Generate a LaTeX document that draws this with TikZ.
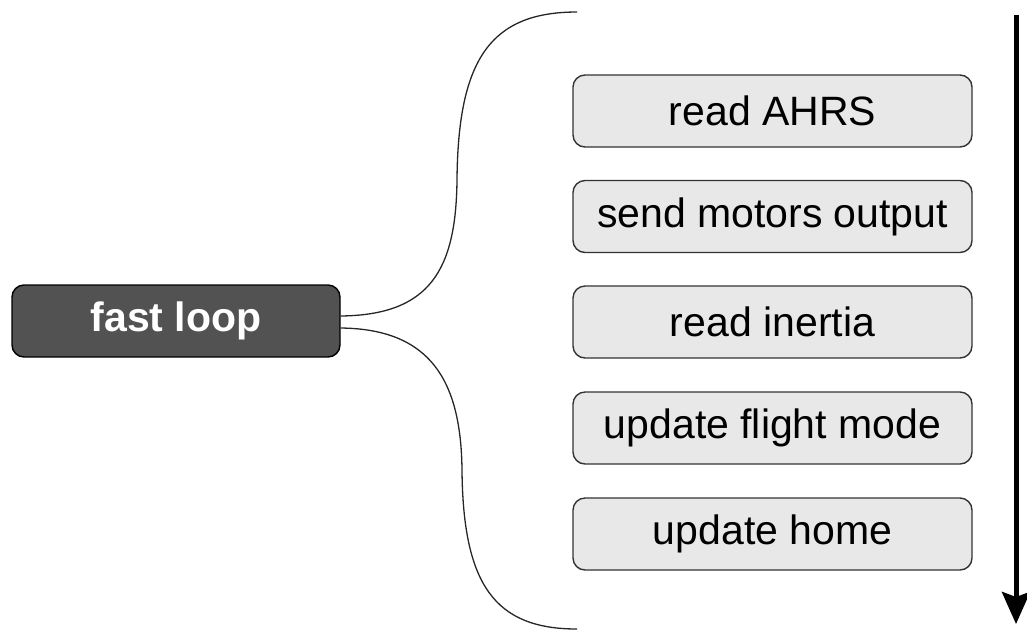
\documentclass[tikz,border=0pt]{standalone}
\usepackage{fontspec}
\setmainfont{Liberation Sans}
\usetikzlibrary{arrows.meta}
\begin{document}
\begin{tikzpicture}[x=1pt,y=-1pt,
  stepbox/.style={draw=black!80, line width=1.4pt, fill=black!9, rounded corners=12pt,
    minimum width=399pt, minimum height=72pt, inner sep=0pt,
    font=\fontsize{41}{48}\selectfont, text=black},
  rootbox/.style={draw=black, line width=1.4pt, fill=black!68, rounded corners=12pt,
    minimum width=328pt, minimum height=72pt, inner sep=0pt,
    font=\fontsize{41}{48}\selectfont\bfseries, text=white},
  brace/.style={draw=black!85, line width=1.3pt},
  flow/.style={line width=5pt, -{Stealth[length=32pt,width=28pt,inset=5pt]}}]
\useasboundingbox (0,0) rectangle (1027,633);

% root task
\node[rootbox] (fast) at (176,321) {fast loop};

% tasks run in sequence
\node[stepbox] (t1) at (772.5,111) {read AHRS};
\node[stepbox] (t2) at (772.5,216.5) {send motors output};
\node[stepbox] (t3) at (772.5,322) {read inertia};
\node[stepbox] (t4) at (772.5,428) {update flight mode};
\node[stepbox] (t5) at (772.5,534) {update home};

% brace grouping the tasks
\coordinate (btop) at (577,12);
\coordinate (bbot) at (577,629);
\draw[brace] ([yshift=5pt]fast.east) .. controls (430,315) and (456,270) .. (457,180)
  .. controls (458,60) and (490,12) .. (btop);
\draw[brace] ([yshift=-7pt]fast.east) .. controls (430,329) and (461,380) .. (462,470)
  .. controls (463,585) and (495,629) .. (bbot);

% order of execution
\coordinate (astart) at (1016,15);
\coordinate (aend) at (1016,624);
\draw[flow] (astart) -- (aend);
\end{tikzpicture}
\end{document}
